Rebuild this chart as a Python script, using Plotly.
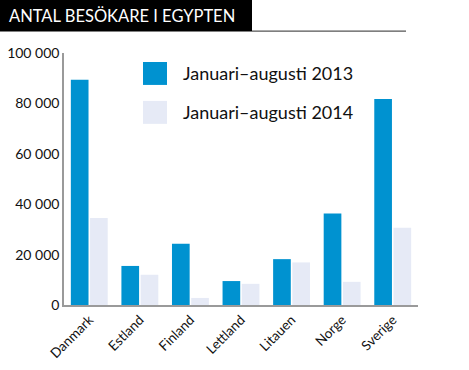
import plotly.graph_objects as go

categories = ["Danmark", "Estland", "Finland", "Lettland", "Litauen", "Norge", "Sverige"]
values_2013 = [89400, 15500, 24300, 9500, 18200, 36300, 81700]
values_2014 = [34500, 12000, 2800, 8400, 16900, 9200, 30700]
series_names = ["Januari–augusti 2013", "Januari–augusti 2014"]
tick_vals = [0, 20000, 40000, 60000, 80000, 100000]
tick_text = ["0", "20 000", "40 000", "60 000", "80 000", "100 000"]
title_text = "ANTAL BESÖKARE I EGYPTEN"

BLUE = "#0092D0"
LIGHT = "#E6EAF6"
FONT = "Lato"

W, H = 469, 370
L, R, T, B = 64, 51, 53, 64.5
pw, ph = W - L - R, H - T - B

def px(x):
    return (x - L) / pw

def py(y):
    return (H - B - y) / ph

fig = go.Figure()
fig.add_bar(x=categories, y=values_2013, name=series_names[0], marker_color=BLUE, marker_line_width=0)
fig.add_bar(x=categories, y=values_2014, name=series_names[1], marker_color=LIGHT, marker_line_width=0)

shapes = [
    dict(type="line", xref="paper", yref="paper", x0=px(0), x1=px(406), y0=py(31), y1=py(31),
         line=dict(color="#555555", width=1.2)),
    dict(type="rect", xref="paper", yref="paper", x0=px(0), x1=px(252), y0=py(0), y1=py(31),
         fillcolor="black", line_width=0),
    dict(type="rect", xref="paper", yref="paper", x0=px(143), x1=px(167), y0=py(62), y1=py(85),
         fillcolor=BLUE, line_width=0),
    dict(type="rect", xref="paper", yref="paper", x0=px(143), x1=px(167), y0=py(101), y1=py(124),
         fillcolor=LIGHT, line_width=0),
]
annotations = [
    dict(text=title_text, xref="paper", yref="paper", x=px(7), y=py(16), xanchor="left", yanchor="middle",
         showarrow=False, font=dict(family=FONT, size=16.5, color="white")),
    dict(text=series_names[0], xref="paper", yref="paper", x=px(181), y=py(73.5), xanchor="left",
         yanchor="middle", showarrow=False, font=dict(family=FONT, size=18, color="#111111")),
    dict(text=series_names[1], xref="paper", yref="paper", x=px(181), y=py(112.5), xanchor="left",
         yanchor="middle", showarrow=False, font=dict(family=FONT, size=18, color="#111111")),
]

fig.update_layout(
    width=W, height=H,
    margin=dict(l=L, r=R, t=T, b=B, autoexpand=False),
    paper_bgcolor="white", plot_bgcolor="white",
    showlegend=False,
    barmode="group", bargap=0.24, bargroupgap=0.08,
    shapes=shapes, annotations=annotations,
    font=dict(family=FONT, color="#111111"),
)
fig.update_xaxes(showline=True, linecolor="#9a9a9a", linewidth=1.5, ticks="", tickangle=-45,
                 tickfont=dict(size=13.5, family=FONT), showgrid=False, automargin=False)
fig.update_yaxes(range=[0, 100000], tickvals=tick_vals, ticktext=tick_text, showline=True,
                 linecolor="#9a9a9a", linewidth=1.5, ticks="", showgrid=False, zeroline=False,
                 tickfont=dict(size=14, family=FONT), automargin=False)

fig.write_html("out.html", config={"displayModeBar": False},
               post_script="document.body.style.margin='0';document.body.style.padding='0';")
